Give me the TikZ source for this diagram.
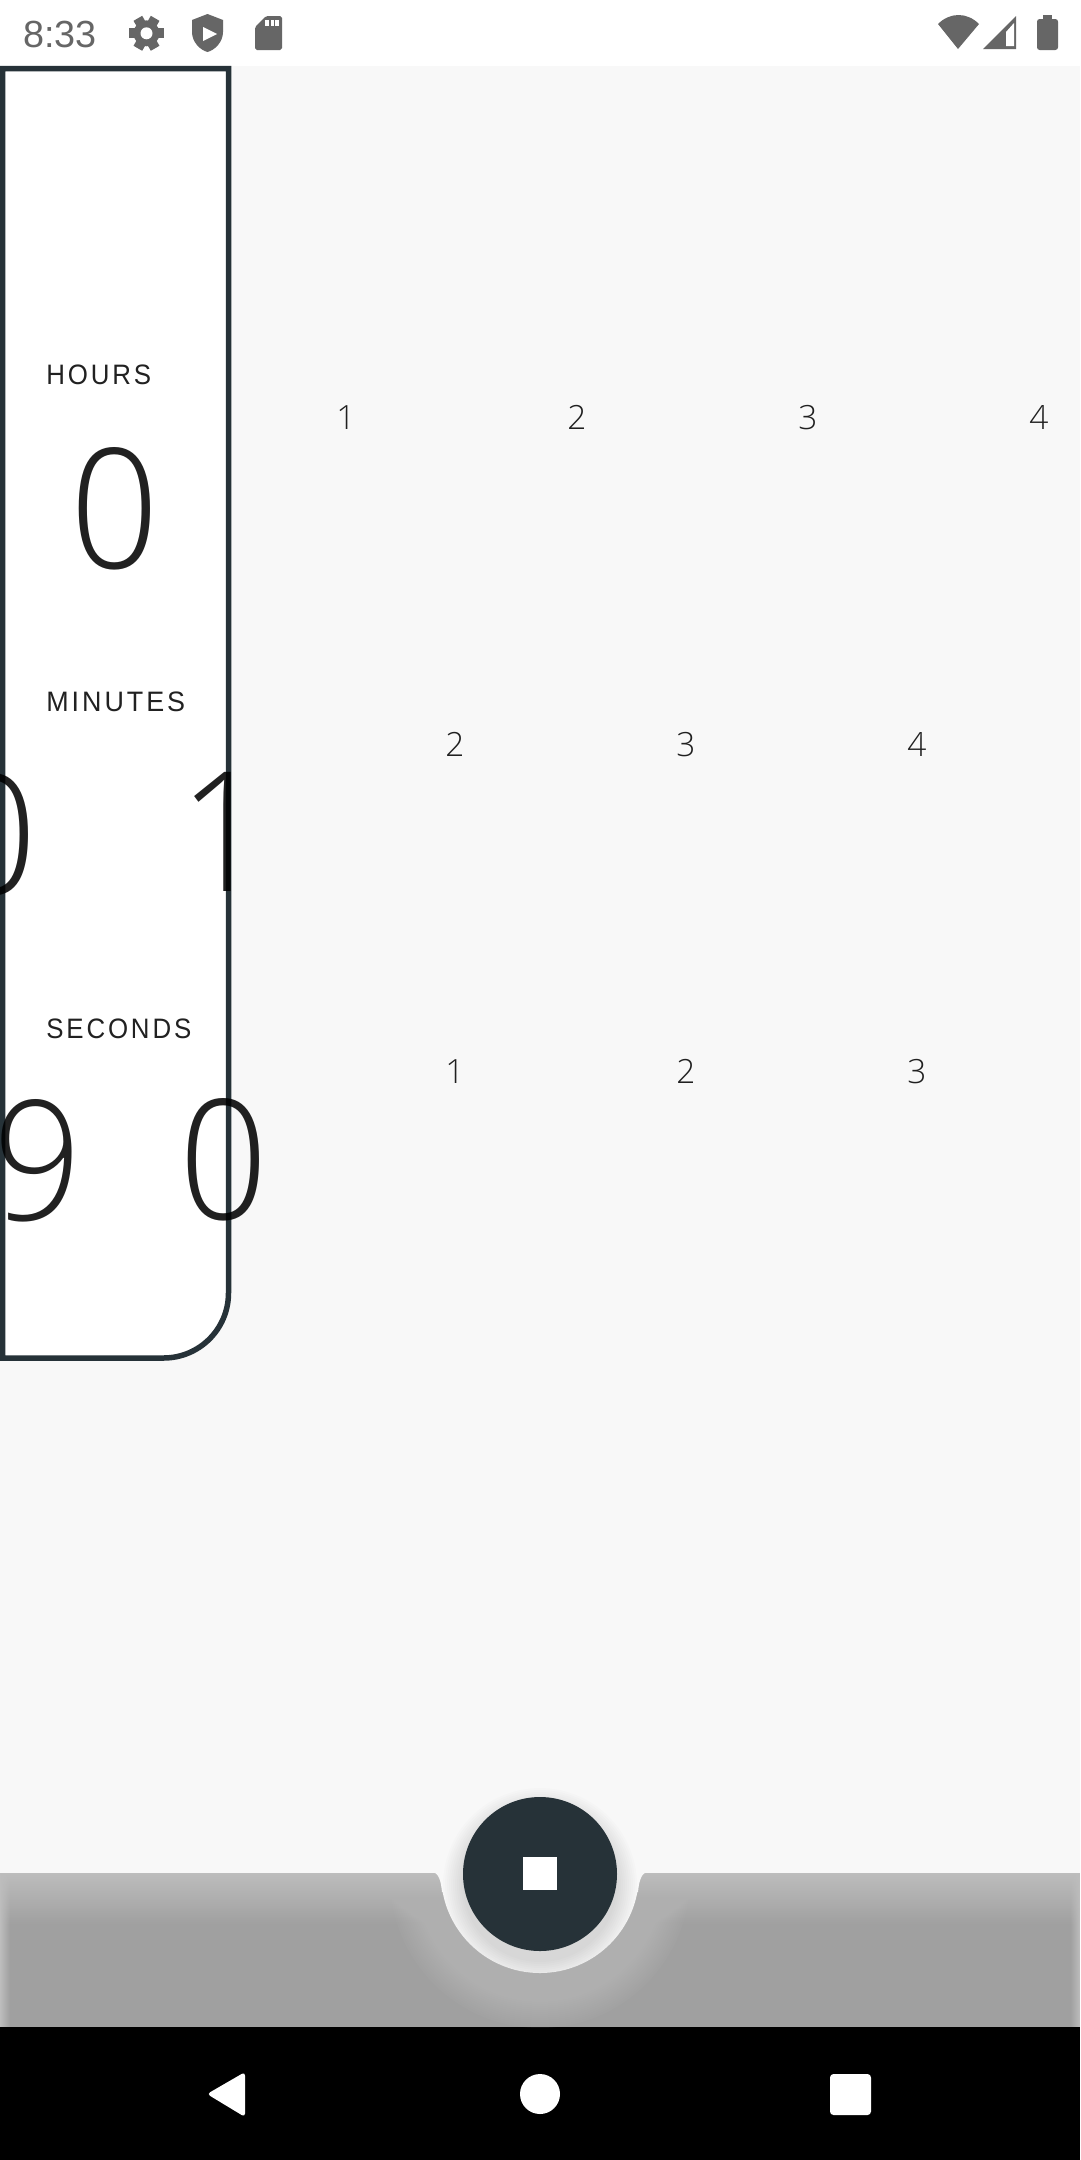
\documentclass[tikz,border=0pt]{standalone}
\usepackage{fontspec}
\setmainfont{Open Sans Light}
\newfontfamily\plainfont{Liberation Sans}
\usetikzlibrary{fadings}
\definecolor{slate}{HTML}{263238}
\definecolor{pagegrey}{HTML}{F8F8F8}
\definecolor{icongrey}{HTML}{666666}
\definecolor{barlight}{HTML}{BDBDBD}
\definecolor{bardark}{HTML}{A0A0A0}
\begin{document}
\begin{tikzpicture}[x=0.02cm,y=-0.02cm,
        tick/.style={font=\fontsize{19pt}{19pt}\selectfont, text=black, text opacity=.87, inner sep=0pt},
        bigdigit/.style={font=\fontsize{95pt}{95pt}\selectfont, xscale=.93, text=black, text opacity=.87, inner sep=0pt},
        caption/.style={font=\plainfont\fontsize{16pt}{16pt}\selectfont\addfontfeature{LetterSpace=11}, xscale=.92, text=black, text opacity=.87, inner sep=0pt, anchor=west},
        icon/.style={fill=icongrey},
        nav/.style={fill=white, rounded corners=2pt},
        panel/.style={draw=slate, line width=0.11cm, fill=white}]
    \useasboundingbox (0,0) rectangle (1080,2160);

    \fill[pagegrey] (0,0) rectangle (1080,2160);
    \fill[white] (0,0) rectangle (1080,66);
    \fill[black] (0,2027) rectangle (1080,2160);

    % bottom bar
    \fill[bardark] (0,1873) rectangle (1080,2027);
    \fill[barlight, path fading=south] (0,1873) rectangle (1080,1925);
    \fill[barlight, path fading=east] (0,1873) rectangle (10,2027);
    \fill[barlight, path fading=west] (1070,1873) rectangle (1080,2027);
    \begin{scope}
        \clip (0,1873) rectangle (1080,2027);
        \foreach \rad in {100,102,...,150} {
            \fill[barlight, opacity=.07] (540,1878) circle[radius=\rad];
        }
    \end{scope}
    \fill[pagegrey] (540,1874) circle[radius=99];
    \fill[pagegrey] (425,1872) -- (432,1872) .. controls (438,1872) and (441,1880) .. (442,1892) -- (470,1892) -- (470,1872) -- cycle;
    \fill[pagegrey] (655,1872) -- (648,1872) .. controls (642,1872) and (639,1880) .. (638,1892) -- (610,1892) -- (610,1872) -- cycle;

    % button
    \begin{scope}
        \clip (540,1874) circle[radius=99];
        \foreach \rad in {77,79,...,97} {
            \fill[black, opacity=.012] (540,1885) circle[radius=\rad];
        }
    \end{scope}
    \fill[slate] (540,1874) circle[radius=77];
    \fill[white] (523,1857) rectangle (556.5,1890);

    % panel
    \draw[panel] (2.7,68.5) -- (228.5,68.5) [rounded corners=1.3cm] -- (228.5,1358) [sharp corners] -- (2.7,1358) -- cycle;

    % status bar
    \node (clock) [font=\plainfont\fontsize{21.5pt}{21.5pt}\selectfont, text=icongrey, inner sep=0pt, anchor=west] at (23,34) {8:33};
    \fill[icon] (146.5,33.3) circle[radius=13];
    \foreach \ang in {30,90,...,330} {
        \fill[icon, rotate around={\ang:(146.5,33.3)}] (141.5,16) rectangle (151.5,24);
    }
    \fill[white] (146.5,33.3) circle[radius=6];
    \fill[icon] (207.5,14) -- (223,20) -- (223,32) .. controls (223,42) and (215,50) .. (207.5,52) .. controls (200,50) and (192,42) .. (192,32) -- (192,20) -- cycle;
    \fill[white] (203,27) -- (217,34) -- (203,41) -- cycle;
    \fill[icon, rounded corners=1pt] (266,16) -- (282,16) -- (282,50) -- (255,50) -- (255,27) -- cycle;
    \fill[white] (265,20) rectangle (269.3,26);
    \fill[white] (270.7,20) rectangle (274,26);
    \fill[white] (275.3,20) rectangle (278.7,26);
    \fill[icon] (958,49) -- (938,24) .. controls (950,12) and (967,12) .. (979,24) -- cycle;
    \fill[icon] (983,49) -- (1016,16) -- (1016,49) -- cycle;
    \fill[white] (1006,46) -- (1014,46) -- (1014,23) -- (1006,32) -- cycle;
    \fill[icon, rounded corners=1.5pt] (1037,19) rectangle (1058,50);
    \fill[icon] (1043,15) rectangle (1052,20);

    % captions and digits
    \node (hours) [caption] at (46,375) {HOURS};
    \node (minutes) [caption, xscale=1.04] at (46,702) {MINUTES};
    \node (seconds) [caption] at (46,1029) {SECONDS};
    \node (hoursval) [bigdigit] at (115,509) {0};
    \node (minutesprev) [bigdigit] at (-7,835) {0};
    \node (minutesval) [bigdigit] at (224,832) {1};
    \node (secondsprev) [bigdigit] at (38,1161) {9};
    \node (secondsval) [bigdigit] at (224,1160) {0};

    % columns
    \node (ha) [tick] at (346,417.5) {1};
    \node (hb) [tick] at (577,417.5) {2};
    \node (hc) [tick] at (808,417.5) {3};
    \node (hd) [tick] at (1039,417.5) {4};
    \node (ma) [tick] at (455,744.5) {2};
    \node (mb) [tick] at (686,744.5) {3};
    \node (mc) [tick] at (917,744.5) {4};
    \node (sa) [tick] at (455,1071.5) {1};
    \node (sb) [tick] at (686,1071.5) {2};
    \node (sc) [tick] at (917,1071.5) {3};

    % navigation
    \fill[nav] (245,2072) -- (207,2094) -- (245,2117) -- cycle;
    \fill[white] (540,2094) circle[radius=20];
    \fill[nav] (830,2074) rectangle (871,2115);
\end{tikzpicture}
\end{document}
